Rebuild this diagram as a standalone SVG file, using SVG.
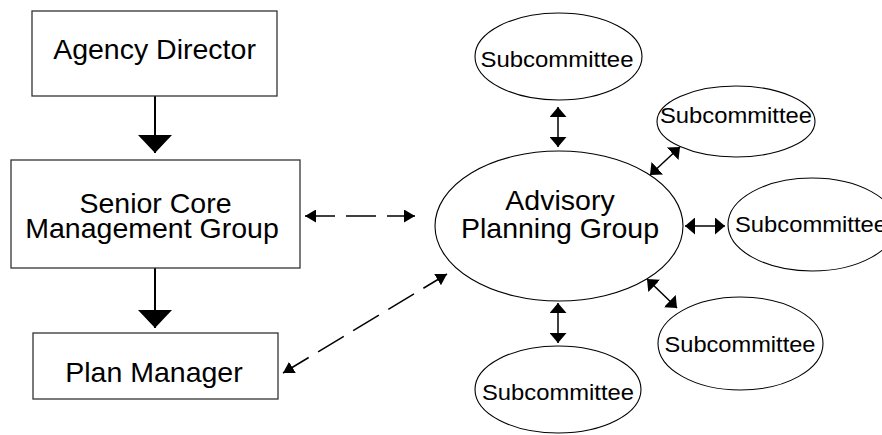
<svg xmlns="http://www.w3.org/2000/svg" width="882" height="435" viewBox="0 0 882 435">
  <style>
    .box { fill: #fff; stroke: #333; stroke-width: 1.3; }
    .ell { fill: #fff; stroke: #000; stroke-width: 1.1; }
    .big { font-family: "Liberation Sans", Arial, sans-serif; font-size: 28.5px; fill: #000; text-anchor: middle; }
    .sub { font-family: "Liberation Sans", Arial, sans-serif; font-size: 22px; fill: #000; text-anchor: middle; }
    .solid { stroke: #000; stroke-width: 2; fill: none; }
    .dbl { stroke: #000; stroke-width: 1.5; fill: none; }
    .dash { stroke: #000; stroke-width: 1.5; fill: none; stroke-dasharray: 30 11; }
  </style>
  <defs>
    <marker id="bigHead" markerUnits="userSpaceOnUse" markerWidth="18" markerHeight="34" viewBox="0 0 18 34" refX="18" refY="17" orient="auto">
      <path d="M0,0 L18,17 L0,34 z" fill="#000"/>
    </marker>
    <marker id="smallHead" markerUnits="userSpaceOnUse" markerWidth="10" markerHeight="17" viewBox="0 0 10 17" refX="10" refY="8.5" orient="auto-start-reverse">
      <path d="M0,0 L10,8.5 L0,17 z" fill="#000"/>
    </marker>
    <marker id="dashHead" markerUnits="userSpaceOnUse" markerWidth="11" markerHeight="13" viewBox="0 0 11 13" refX="11" refY="6.5" orient="auto-start-reverse">
      <path d="M0,0 L11,6.5 L0,13 z" fill="#000"/>
    </marker>
  </defs>

  <g id="connectors">
    <line class="solid" x1="155" y1="96" x2="155" y2="153" marker-end="url(#bigHead)"/>
    <line class="solid" x1="155" y1="268" x2="155" y2="328" marker-end="url(#bigHead)"/>
    <line class="dash" x1="305" y1="216" x2="415" y2="216" marker-start="url(#dashHead)" marker-end="url(#dashHead)"/>
    <line class="dash" x1="283" y1="373" x2="447" y2="274" marker-start="url(#dashHead)" marker-end="url(#dashHead)"/>
    <line class="dbl" x1="558" y1="107" x2="558" y2="147" marker-start="url(#smallHead)" marker-end="url(#smallHead)"/>
    <line class="dbl" x1="650" y1="175" x2="680" y2="147" marker-start="url(#smallHead)" marker-end="url(#smallHead)"/>
    <line class="dbl" x1="685" y1="226" x2="725" y2="226" marker-start="url(#smallHead)" marker-end="url(#smallHead)"/>
    <line class="dbl" x1="647" y1="279" x2="677" y2="308" marker-start="url(#smallHead)" marker-end="url(#smallHead)"/>
    <line class="dbl" x1="558" y1="303" x2="558" y2="343" marker-start="url(#smallHead)" marker-end="url(#smallHead)"/>
  </g>

  <g id="agency-director">
    <rect class="box" x="32" y="11" width="245" height="85"/>
    <text class="big" x="154.5" y="59">Agency Director</text>
  </g>
  <g id="senior-core">
    <rect class="box" x="11" y="160" width="289" height="108"/>
    <text class="big" x="155.5" y="213">Senior Core</text>
    <text class="big" x="152" y="238">Management Group</text>
  </g>
  <g id="plan-manager">
    <rect class="box" x="33" y="333" width="245" height="66"/>
    <text class="big" x="154" y="382">Plan Manager</text>
  </g>
  <g id="advisory">
    <ellipse class="ell" cx="559" cy="226" rx="124" ry="75"/>
    <text class="big" x="560" y="210">Advisory</text>
    <text class="big" x="560" y="238">Planning Group</text>
  </g>
  <g id="sub-top">
    <ellipse class="ell" cx="558.5" cy="56.5" rx="83.5" ry="43.5"/>
    <text class="sub" x="557" y="67" textLength="153" lengthAdjust="spacingAndGlyphs">Subcommittee</text>
  </g>
  <g id="sub-upper-right">
    <ellipse class="ell" cx="736" cy="121.5" rx="79" ry="35.5"/>
    <text class="sub" x="736" y="123" textLength="152" lengthAdjust="spacingAndGlyphs">Subcommittee</text>
  </g>
  <g id="sub-right">
    <ellipse class="ell" cx="812" cy="224.5" rx="84" ry="46.5"/>
    <text class="sub" x="811" y="232" textLength="152" lengthAdjust="spacingAndGlyphs">Subcommittee</text>
  </g>
  <g id="sub-lower-right">
    <ellipse class="ell" cx="740.5" cy="343.5" rx="82.5" ry="46.5"/>
    <text class="sub" x="740" y="352" textLength="151" lengthAdjust="spacingAndGlyphs">Subcommittee</text>
  </g>
  <g id="sub-bottom">
    <ellipse class="ell" cx="558" cy="389.5" rx="83" ry="43.5"/>
    <text class="sub" x="558" y="400" textLength="152" lengthAdjust="spacingAndGlyphs">Subcommittee</text>
  </g>
</svg>
